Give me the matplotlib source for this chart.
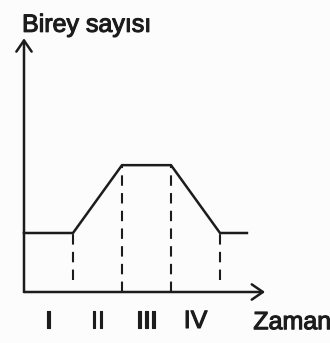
import numpy as np
import matplotlib
matplotlib.use('Agg')
import matplotlib.pyplot as plt
import matplotlib.patheffects as pe
from matplotlib import font_manager

# population curve (relative units, low level = 1)
zaman = [0, 1, 2, 3, 4, 4.55]
birey = [1, 1, 2.15, 2.15, 1, 1]
donem_sinir = [1, 2, 3, 4]
donem_etiket = ['I', 'II', 'III', 'IV']
donem_orta = [0.5, 1.5, 2.5, 3.5]

names = {f.name for f in font_manager.fontManager.ttflist}
fam = 'Liberation Sans Narrow' if 'Liberation Sans Narrow' in names else 'Liberation Sans'
plt.rcParams['font.family'] = [fam, 'DejaVu Sans']

ink = '#1c1c1c'
fig = plt.figure(figsize=(3.30, 3.43), dpi=100, facecolor='#fcfcfc')
ax = fig.add_axes([0, 0, 1, 1])
ax.set_facecolor('#fcfcfc')
ax.set_xlim(-24 / 49, 306 / 49)
ax.set_ylim(-51 / 59, 292 / 59)
ax.axis('off')

# axes with open arrow heads
arr = dict(arrowstyle='->,head_length=0.8,head_width=0.55', color=ink, lw=1.8,
           shrinkA=0, shrinkB=0)
ax.annotate('', xy=(0, 4.30), xytext=(0, 0), arrowprops=arr)
ax.annotate('', xy=(4.92, 0), xytext=(0, 0), arrowprops=arr)

ax.plot(zaman, birey, color=ink, lw=1.8, solid_joinstyle='miter')

for x in donem_sinir:
    y = birey[zaman.index(x)]
    y0 = 0.2 if y < 1.5 else 0
    ax.plot([x, x], [y0, y], color=ink, lw=1.5, dashes=(5, 3.5))

heavy = [pe.withStroke(linewidth=0.8, foreground=ink)]
for x, lab in zip(donem_orta, donem_etiket):
    ax.text(x, -0.61, lab, ha='center', va='baseline', fontsize=18, color=ink,
            path_effects=heavy)

ax.text(-0.04, 4.41, 'Birey sayısı', ha='left', va='baseline', fontsize=18, color=ink,
        path_effects=heavy)
ax.text(4.68, -0.63, 'Zaman', ha='left', va='baseline', fontsize=18, color=ink,
        path_effects=heavy)

fig.savefig('out.png', dpi=100, facecolor=fig.get_facecolor())
